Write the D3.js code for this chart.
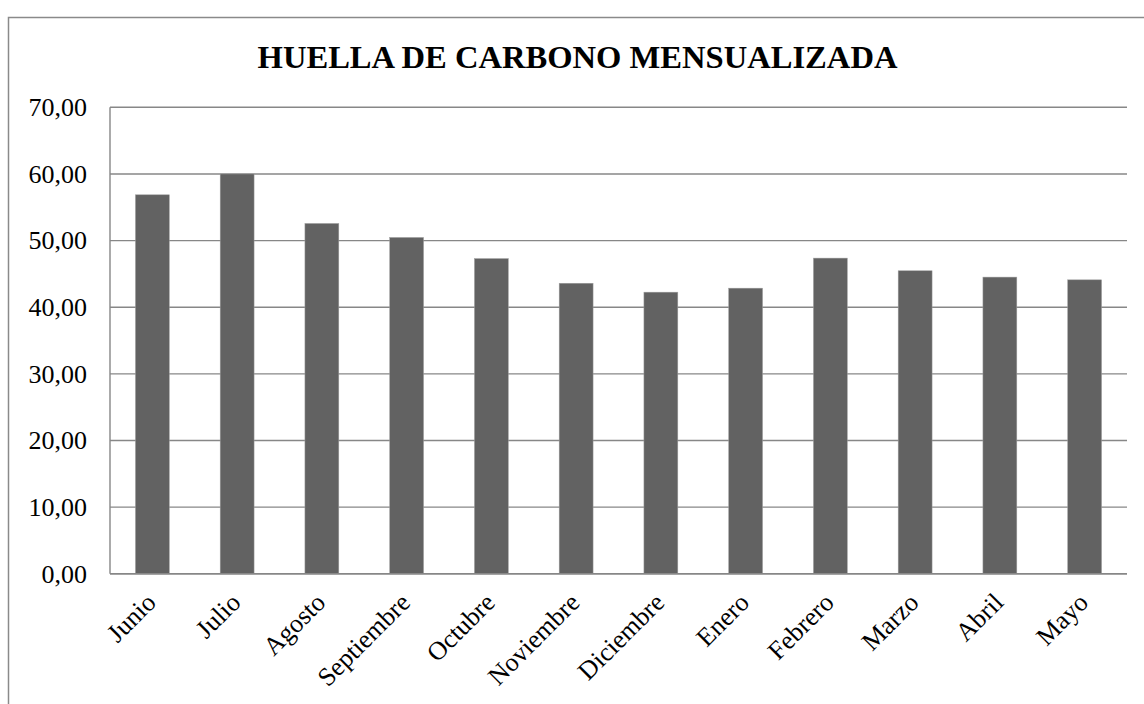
<!DOCTYPE html>
<html><head><meta charset="utf-8">
<script src="https://cdn.jsdelivr.net/npm/d3@7"></script>
<style>body{margin:0;background:#fff}</style>
</head><body>
<svg id="c" width="1144" height="704"></svg>
<script>
const categories = ["Junio","Julio","Agosto","Septiembre","Octubre","Noviembre","Diciembre","Enero","Febrero","Marzo","Abril","Mayo"];
const values = [56.87, 60.0, 52.57, 50.47, 47.3, 43.6, 42.26, 42.86, 47.37, 45.47, 44.52, 44.11];
const yTicks = [0,10,20,30,40,50,60,70];
const title = "HUELLA DE CARBONO MENSUALIZADA";

const svg = d3.select("#c");
const font = "'Liberation Serif','Times New Roman',serif";
const grid = "#878787";
const pLeft = 110, pRight = 1127, pTop = 107.3, pBottom = 573.8;

svg.append("rect").attr("x",8.5).attr("y",17.5).attr("width",1160).attr("height",760)
  .attr("fill","none").attr("stroke","#8a8a8a").attr("stroke-width",1.5);

svg.append("text").attr("x",577.5).attr("y",68).attr("text-anchor","middle")
  .attr("font-family",font).attr("font-weight","bold").attr("font-size",32.6).text(title);

const x = d3.scaleBand().domain(categories).range([pLeft,pRight]).paddingInner(0.6).paddingOuter(0.3);
const y = d3.scaleLinear().domain([0,70]).range([pBottom,pTop]);

// gridlines
svg.append("g").selectAll("line").data(yTicks).join("line")
  .attr("x1",pLeft).attr("x2",pRight).attr("y1",d=>y(d)).attr("y2",d=>y(d))
  .attr("stroke",grid).attr("stroke-width",1.4);
// left axis line
svg.append("line").attr("x1",pLeft).attr("x2",pLeft).attr("y1",pTop).attr("y2",pBottom)
  .attr("stroke",grid).attr("stroke-width",1.4);

// y axis labels
const yAxis = d3.axisLeft(y).tickValues(yTicks).tickSize(0).tickPadding(23)
  .tickFormat(d=>d3.format(".2f")(d).replace(".",","));
const gy = svg.append("g").attr("transform",`translate(${pLeft},0)`).call(yAxis);
gy.select(".domain").remove();
gy.selectAll("text").attr("font-family",font).attr("font-size",26).attr("fill","#000");

// bars
svg.append("g").selectAll("rect").data(categories).join("rect")
  .attr("x",d=>x(d)).attr("width",x.bandwidth())
  .attr("y",(d,i)=>y(values[i])).attr("height",(d,i)=>y(0)-y(values[i]))
  .attr("fill","#626262").attr("stroke","#a0a0a0").attr("stroke-width",0.5);

// x axis line on top of bars
svg.append("line").attr("x1",pLeft).attr("x2",pRight).attr("y1",y(0)).attr("y2",y(0))
  .attr("stroke",grid).attr("stroke-width",1.4);

// x labels
svg.append("g").selectAll("text").data(categories).join("text")
  .attr("transform",d=>`translate(${x(d)+x.bandwidth()/2+5},604) rotate(-45)`)
  .attr("text-anchor","end").attr("font-family",font).attr("font-size",26).attr("fill","#000")
  .text(d=>d);
</script>
</body></html>
